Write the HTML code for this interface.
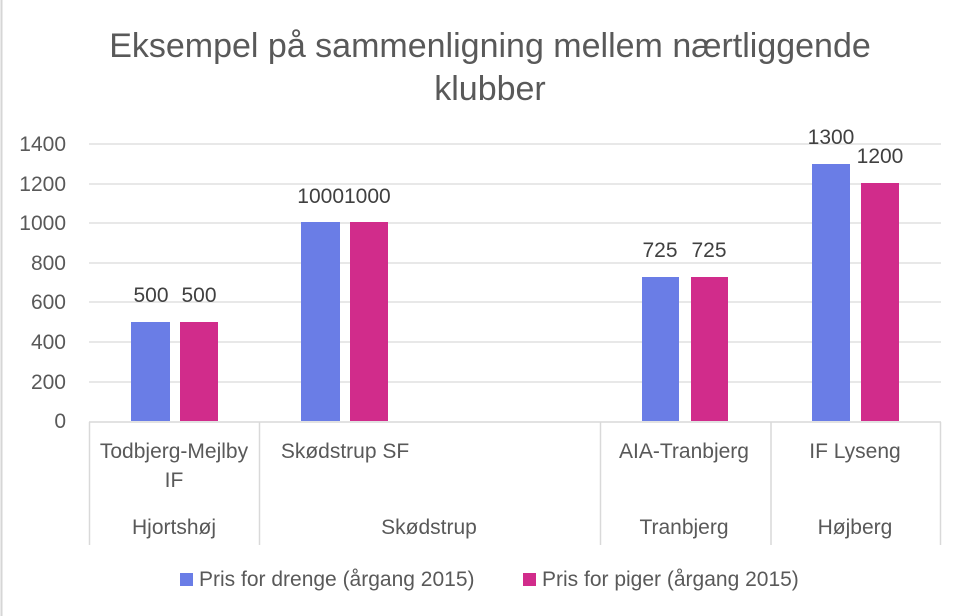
<!DOCTYPE html>
<html><head><meta charset="utf-8"><style>
body{margin:0;background:#fff;}
svg{display:block;font-family:"Liberation Sans",sans-serif;}
</style></head><body>
<svg width="960" height="616" viewBox="0 0 960 616">
<rect width="960" height="616" fill="#fff"/>
<line x1="1.5" y1="0" x2="1.5" y2="616" stroke="#d6d6d6" stroke-width="2"/>
<g fill="#595959" text-anchor="middle" font-size="34">
<text x="490" y="57">Eksempel på sammenligning mellem nærtliggende</text>
<text x="490" y="100">klubber</text>
</g>
<g stroke="#d9d9d9" stroke-width="1.3">
<line x1="89" y1="144" x2="941" y2="144"/>
<line x1="89" y1="184" x2="941" y2="184"/>
<line x1="89" y1="223" x2="941" y2="223"/>
<line x1="89" y1="263" x2="941" y2="263"/>
<line x1="89" y1="302" x2="941" y2="302"/>
<line x1="89" y1="342" x2="941" y2="342"/>
<line x1="89" y1="382" x2="941" y2="382"/>
</g>
<g fill="#595959" font-size="21" text-anchor="end">
<text x="66" y="151">1400</text><text x="66" y="191">1200</text><text x="66" y="230">1000</text>
<text x="66" y="270">800</text><text x="66" y="309">600</text><text x="66" y="349">400</text>
<text x="66" y="389">200</text><text x="66" y="428">0</text>
</g>
<g fill="#6a7de6">
<rect x="131" y="322" width="39" height="99"/>
<rect x="301" y="222" width="39" height="199"/>
<rect x="642" y="277" width="37" height="144"/>
<rect x="812" y="164" width="38" height="257"/>
</g>
<g fill="#d12c8b">
<rect x="180" y="322" width="38" height="99"/>
<rect x="350" y="222" width="38" height="199"/>
<rect x="691" y="277" width="37" height="144"/>
<rect x="861" y="183" width="38" height="238"/>
</g>
<g fill="#404040" font-size="21" text-anchor="middle">
<text x="151" y="302">500</text><text x="199" y="302">500</text>
<text x="344" y="203">10001000</text>
<text x="660" y="257">725</text><text x="709" y="257">725</text>
<text x="831" y="144">1300</text><text x="880" y="163">1200</text>
</g>
<g stroke="#d9d9d9" stroke-width="1.5">
<line x1="89" y1="422" x2="941" y2="422"/>
<line x1="89.5" y1="422" x2="89.5" y2="545"/>
<line x1="259.5" y1="422" x2="259.5" y2="545"/>
<line x1="600.5" y1="422" x2="600.5" y2="545"/>
<line x1="771" y1="422" x2="771" y2="545"/>
<line x1="940.5" y1="422" x2="940.5" y2="545"/>
</g>
<g fill="#595959" font-size="21" text-anchor="middle">
<text x="174" y="458">Todbjerg-Mejlby</text>
<text x="174" y="487">IF</text>
<text x="174" y="534">Hjortshøj</text>
<text x="345" y="458">Skødstrup SF</text>
<text x="429" y="534">Skødstrup</text>
<text x="684" y="458">AIA-Tranbjerg</text>
<text x="684" y="534">Tranbjerg</text>
<text x="855" y="458">IF Lyseng</text>
<text x="855" y="534">Højberg</text>
</g>
<rect x="180" y="573" width="13" height="13" fill="#6a7de6"/>
<rect x="523" y="573" width="13" height="13" fill="#d12c8b"/>
<g fill="#595959" font-size="21">
<text x="199" y="586">Pris for drenge (årgang 2015)</text>
<text x="542" y="586">Pris for piger (årgang 2015)</text>
</g>
</svg>
</body></html>
